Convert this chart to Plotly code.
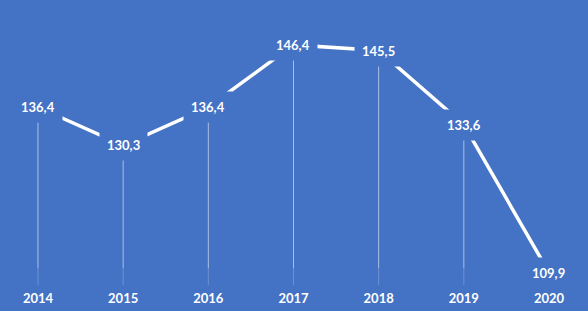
import plotly.graph_objects as go

years = [2014, 2015, 2016, 2017, 2018, 2019, 2020]
values = [136.4, 130.3, 136.4, 146.4, 145.5, 133.6, 109.9]
labels = ["136,4", "130,3", "136,4", "146,4", "145,5", "133,6", "109,9"]
tick_labels = ["2014", "2015", "2016", "2017", "2018", "2019", "2020"]

BG = "#4472C4"
Y_MIN, Y_MAX = 107.9, 153.6
FADE_AT = 110.6

fig = go.Figure()

# drop lines (upper, brighter part)
xs, ys = [], []
for yr, v in zip(years, values):
    if v > FADE_AT:
        xs += [yr, yr, None]
        ys += [v, FADE_AT, None]
fig.add_trace(go.Scatter(x=xs, y=ys, mode="lines",
                         line=dict(color="rgba(255,255,255,0.55)", width=1),
                         hoverinfo="skip", showlegend=False))
# drop lines (lower, fading part)
xs, ys = [], []
for yr, v in zip(years, values):
    xs += [yr, yr, None]
    ys += [min(v, FADE_AT), Y_MIN, None]
fig.add_trace(go.Scatter(x=xs, y=ys, mode="lines",
                         line=dict(color="rgba(255,255,255,0.22)", width=1),
                         hoverinfo="skip", showlegend=False))

# main line
fig.add_trace(go.Scatter(x=years, y=values, mode="lines",
                         line=dict(color="white", width=3.5),
                         hoverinfo="skip", showlegend=False))

for yr, v, t in zip(years, values, labels):
    fig.add_annotation(x=yr, y=v, xref="x", yref="y", text="<b>%s</b>" % t,
                       showarrow=False,
                       font=dict(family="Lato", size=13, color="white"),
                       bgcolor=BG, borderpad=7, xanchor="center", yanchor="middle")

fig.update_layout(
    width=588, height=311,
    margin=dict(l=0, r=0, t=0, b=26),
    paper_bgcolor=BG, plot_bgcolor=BG,
    xaxis=dict(range=[2013.554, 2020.458], showgrid=False,
               tickvals=years, ticktext=tick_labels,
               zeroline=False, showline=False, ticks="", ticklabelstandoff=4,
               tickfont=dict(family="Lato", size=13, color="white", weight="bold")),
    yaxis=dict(range=[Y_MIN, Y_MAX], visible=False),
)

fig.write_html("out.html")
